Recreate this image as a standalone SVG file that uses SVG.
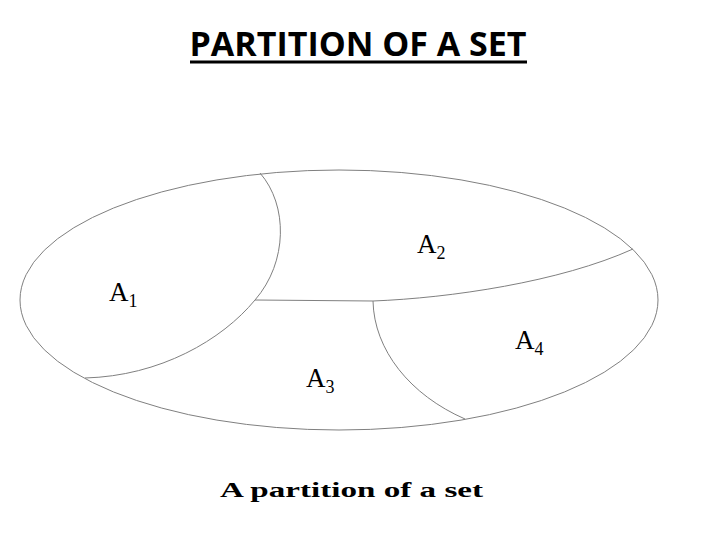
<svg xmlns="http://www.w3.org/2000/svg" width="720" height="540" viewBox="0 0 720 540">
<style>
.ln{fill:none;stroke:#808080;stroke-width:1}
.lbl{font-family:"Liberation Serif",serif;font-size:27px;fill:#000}
.sub{font-size:18px}
</style>
<rect width="720" height="540" fill="#fff"/>
<g id="title">
<text x="358" y="56" text-anchor="middle" font-family="Open Sans, Liberation Sans, sans-serif" font-weight="bold" font-size="34" textLength="337" lengthAdjust="spacingAndGlyphs">PARTITION OF A SET</text>
<rect x="190" y="60.5" width="337" height="3" fill="#000"/>
</g>
<g id="set">
<ellipse class="ln" cx="339" cy="300" rx="319" ry="130"/>
</g>
<g id="connectors">
<path class="ln" d="M260,173 C288,205 288,262 255,300 C222,340 160,376 85,378"/>
<path class="ln" d="M255,300 L373,301 C450,298 560,282 633,249"/>
<path class="ln" d="M373,301 C374,350 410,395 465,419"/>
</g>
<g id="A1"><text class="lbl" x="109" y="301">A<tspan class="sub" dy="6">1</tspan></text></g>
<g id="A2"><text class="lbl" x="417" y="253">A<tspan class="sub" dy="6">2</tspan></text></g>
<g id="A3"><text class="lbl" x="306" y="387">A<tspan class="sub" dy="6">3</tspan></text></g>
<g id="A4"><text class="lbl" x="515" y="349">A<tspan class="sub" dy="6">4</tspan></text></g>
<g id="caption">
<text x="220" y="497" font-family="Liberation Serif, serif" font-weight="bold" font-size="21" textLength="263" lengthAdjust="spacingAndGlyphs">A partition of a set</text>
</g>
</svg>
